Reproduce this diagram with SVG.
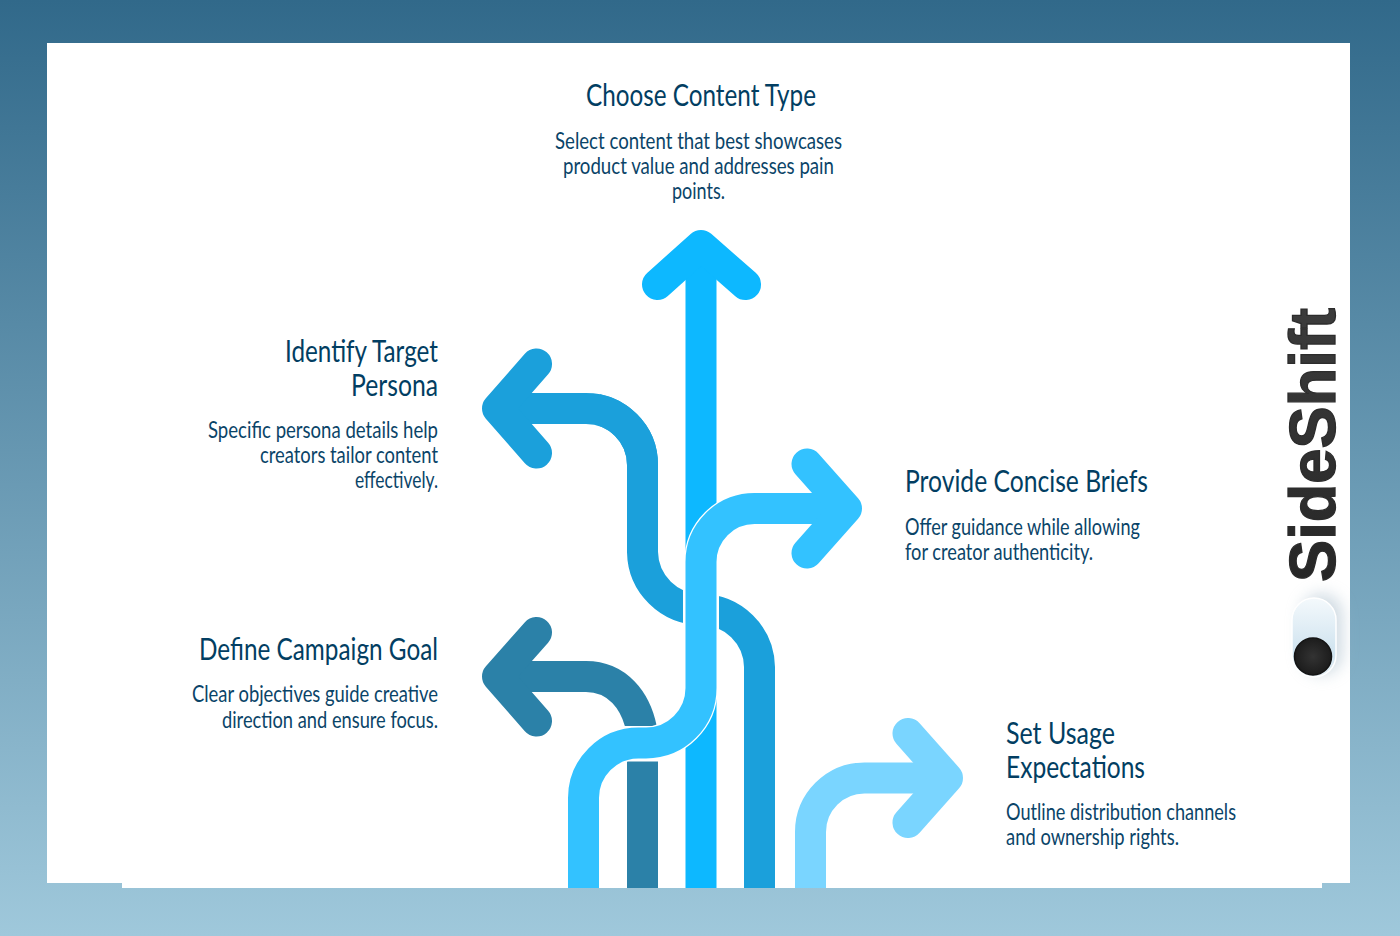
<svg xmlns="http://www.w3.org/2000/svg" width="1400" height="936" viewBox="0 0 1400 936">
<style>
.l{fill:none;stroke-width:31;stroke-linejoin:round}
.h{fill:none;stroke-width:31;stroke-linejoin:round;stroke-linecap:round}
.t{font-family:"Lato","Liberation Sans Narrow","Liberation Sans",sans-serif;fill:#0a4468}
.a{font-size:30px;fill:#023e62}
.b{font-size:22.5px}
</style>
<defs>
<linearGradient id="bg" x1="0" y1="0" x2="0" y2="1"><stop offset="0" stop-color="#31698a"/><stop offset="1" stop-color="#9fc8db"/></linearGradient>
<linearGradient id="pill" x1="0" y1="0" x2="0" y2="1"><stop offset="0" stop-color="#f4f9fc"/><stop offset="0.7" stop-color="#cfe3ef"/><stop offset="1" stop-color="#e6f0f6"/></linearGradient>
<linearGradient id="ink" x1="0" y1="0" x2="1" y2="0"><stop offset="0" stop-color="#262626"/><stop offset="1" stop-color="#3c3c3c"/></linearGradient>
<radialGradient id="knob"><stop offset="0" stop-color="#333"/><stop offset="1" stop-color="#1c1c1c"/></radialGradient>
<filter id="soft" x="-60%" y="-40%" width="220%" height="180%"><feGaussianBlur stdDeviation="8"/></filter>
<clipPath id="gap"><rect x="600" y="560" width="83" height="100"/><rect x="719" y="560" width="80" height="340"/><rect x="600" y="300" width="199" height="260"/></clipPath>
<clipPath id="dk"><rect x="480" y="640" width="200" height="86"/></clipPath>
</defs>
<rect width="1400" height="936" fill="url(#bg)"/>
<rect x="47" y="43" width="1303" height="840" fill="#fff"/>
<rect x="122" y="880" width="1200" height="8" fill="#fff"/>
<g id="connectors">
<path class="l" stroke="#0db8ff" d="M701 888V250"/>
<path class="h" stroke="#0db8ff" d="M657.500 284.500L701 245.500L745.500 284.500"/>
<path class="l" stroke="#7ad5ff" d="M810.500 888V832A54 54 0 0 1 864.500 778H940"/>
<path class="h" stroke="#7ad5ff" d="M908 733.500L947.500 778L908 822.500"/>
<path class="l" stroke="#1ba0db" clip-path="url(#gap)" d="M759.500 888V667A58.500 58.500 0 0 0 701 609.500A58.500 58.500 0 0 1 642.500 552V465A56.500 56.500 0 0 0 586 408.500H510"/>
<path class="l" stroke="#1ba0db" d="M642.500 465A56.500 56.500 0 0 0 586 408.500H510"/>
<path class="h" stroke="#1ba0db" d="M536.500 364L497.500 408.500L536.500 453"/>
<path class="l" stroke="#2b81a8" d="M642.500 888V761.500"/>
<path class="l" stroke="#2b81a8" clip-path="url(#dk)" d="M643 738C638 698 615 676.500 586 676.500H510"/>
<path class="h" stroke="#2b81a8" d="M536.500 632.500L497.500 676.500L536.500 721"/>
<path fill="none" stroke="#fff" stroke-width="33.500" d="M583.500 888V798A55 55 0 0 1 638.500 743H646A55 55 0 0 0 701 688V562A53.500 53.500 0 0 1 754.500 508.500H840"/>
<path class="l" stroke="#33c2ff" d="M583.500 888V798A55 55 0 0 1 638.500 743H646A55 55 0 0 0 701 688V562A53.500 53.500 0 0 1 754.500 508.500H840"/>
<path class="h" stroke="#33c2ff" d="M807 464L846.500 508.500L807 553"/>
</g>
<g id="node-choose">
<text class="t a" x="586" y="106" textLength="230" lengthAdjust="spacingAndGlyphs">Choose Content Type</text>
<text class="t b" x="555" y="149" textLength="287" lengthAdjust="spacingAndGlyphs">Select content that best showcases</text>
<text class="t b" x="563" y="174" textLength="271" lengthAdjust="spacingAndGlyphs">product value and addresses pain</text>
<text class="t b" x="672" y="199" textLength="53" lengthAdjust="spacingAndGlyphs">points.</text>
</g>
<g id="node-identify">
<text class="t a" x="285" y="362" textLength="153" lengthAdjust="spacingAndGlyphs">Identify Target</text>
<text class="t a" x="351" y="396" textLength="87" lengthAdjust="spacingAndGlyphs">Persona</text>
<text class="t b" x="208" y="438" textLength="230" lengthAdjust="spacingAndGlyphs">Specific persona details help</text>
<text class="t b" x="260" y="463" textLength="178" lengthAdjust="spacingAndGlyphs">creators tailor content</text>
<text class="t b" x="355" y="488" textLength="83" lengthAdjust="spacingAndGlyphs">effectively.</text>
</g>
<g id="node-define">
<text class="t a" x="199" y="660" textLength="239" lengthAdjust="spacingAndGlyphs">Define Campaign Goal</text>
<text class="t b" x="192" y="702" textLength="246" lengthAdjust="spacingAndGlyphs">Clear objectives guide creative</text>
<text class="t b" x="222" y="728" textLength="216" lengthAdjust="spacingAndGlyphs">direction and ensure focus.</text>
</g>
<g id="node-provide">
<text class="t a" x="905" y="492" textLength="243" lengthAdjust="spacingAndGlyphs">Provide Concise Briefs</text>
<text class="t b" x="905" y="535" textLength="235" lengthAdjust="spacingAndGlyphs">Offer guidance while allowing</text>
<text class="t b" x="905" y="560" textLength="188" lengthAdjust="spacingAndGlyphs">for creator authenticity.</text>
</g>
<g id="node-set">
<text class="t a" x="1006" y="744" textLength="109" lengthAdjust="spacingAndGlyphs">Set Usage</text>
<text class="t a" x="1006" y="778" textLength="139" lengthAdjust="spacingAndGlyphs">Expectations</text>
<text class="t b" x="1006" y="820" textLength="230" lengthAdjust="spacingAndGlyphs">Outline distribution channels</text>
<text class="t b" x="1006" y="845" textLength="173" lengthAdjust="spacingAndGlyphs">and ownership rights.</text>
</g>
<g id="logo">
<rect x="1302" y="594" width="40" height="80" rx="20" fill="#9db4c4" opacity="0.5" filter="url(#soft)"/>
<rect x="1292" y="598" width="44" height="79" rx="22" fill="url(#pill)" stroke="#fff" stroke-width="1.500"/>
<circle cx="1313" cy="656.500" r="18.500" fill="url(#knob)" stroke="#141414" stroke-width="1.500"/>
<text transform="translate(1335 582) rotate(-90)" font-family="'Liberation Sans',Arial,sans-serif" font-weight="700" font-size="64" fill="url(#ink)" stroke="#2c2c2c" stroke-width="1.300" textLength="274" lengthAdjust="spacingAndGlyphs">SideShift</text>
</g>
</svg>
